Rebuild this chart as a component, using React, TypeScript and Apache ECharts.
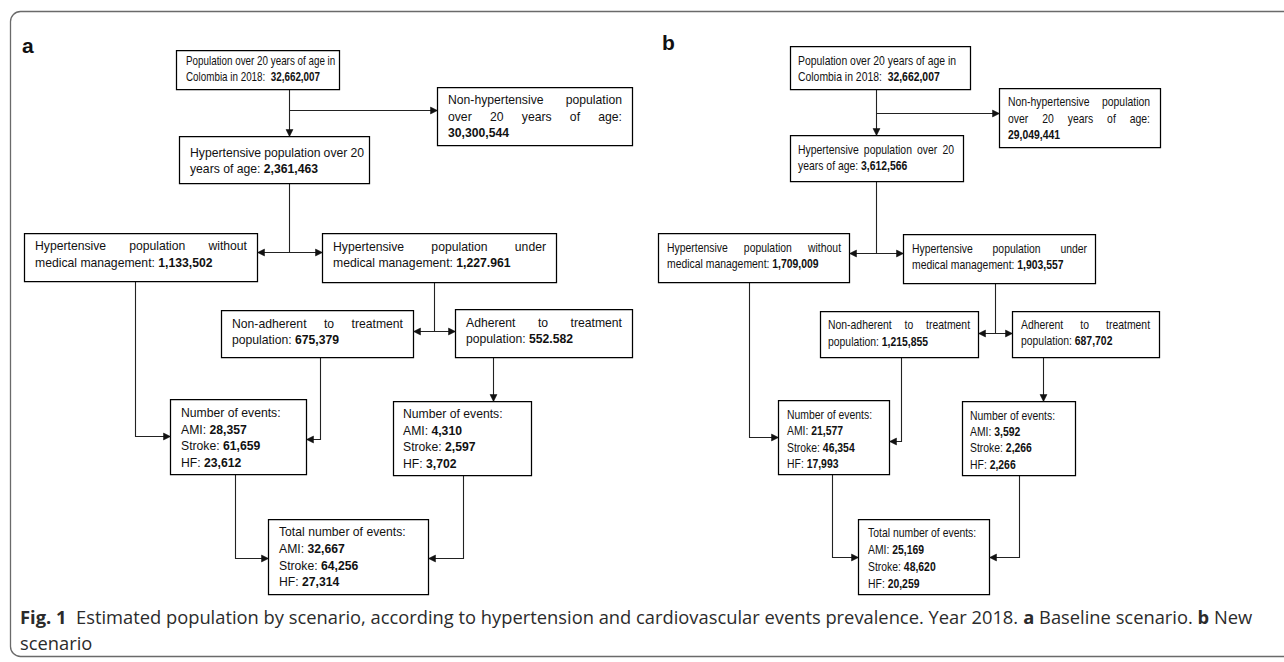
import React, { useEffect, useRef } from 'react';
import * as echarts from 'echarts';

// ---------- data ----------
const populationA = ['32,662,007', '30,300,544', '2,361,463', '1,133,502', '1,227.961', '675,379', '552.582'];
const eventsNonAdherentA = ['28,357', '61,659', '23,612'];
const eventsAdherentA = ['4,310', '2,597', '3,702'];
const eventsTotalA = ['32,667', '64,256', '27,314'];

const populationB = ['32,662,007', '29,049,441', '3,612,566', '1,709,009', '1,903,557', '1,215,855', '687,702'];
const eventsNonAdherentB = ['21,577', '46,354', '17,993'];
const eventsAdherentB = ['3,592', '2,266', '2,266'];
const eventsTotalB = ['25,169', '48,620', '20,259'];

const eventLabels = ['AMI', 'Stroke', 'HF'];
const panelLabels = ['a', 'b'];
const captionLine1 = ['Fig. 1', 'Estimated population by scenario, according to hypertension and cardiovascular events prevalence. Year 2018.', 'a', 'Baseline scenario.', 'b', 'New'];
const captionLine2 = 'scenario';

// ---------- styling ----------
const SANS = "'Liberation Sans', Arial, Helvetica, sans-serif";
const CAP = "'Open Sans', 'Noto Sans', sans-serif";
const INK = '#111111';

let ctx: CanvasRenderingContext2D | null = null;
function tw(text: string, size: number, bold = false, fam = SANS): number {
  if (!ctx) ctx = document.createElement('canvas').getContext('2d');
  ctx!.font = `${bold ? 'bold ' : ''}${size}px ${fam}`;
  return ctx!.measureText(text).width;
}

type LineSpec = { t: string; j?: boolean };
type BoxSpec = {
  x0: number; y0: number; x1: number; y1: number;
  tx: number; tr?: number; ys: number[]; lines: LineSpec[]; fs: number; sx: number;
};
type Conn = { pts: number[][]; start?: boolean; end?: boolean };

function textEl(t: string, x: number, y: number, fs: number, sx: number) {
  return {
    type: 'text', x, y, scaleX: sx, z: 5,
    style: {
      text: t, x: 0, y: 0, fill: INK, fontSize: fs, fontFamily: SANS,
      align: 'left', verticalAlign: 'middle', textAlign: 'left', textVerticalAlign: 'middle',
      rich: { b: { fontWeight: 'bold', fontSize: fs, fontFamily: SANS, fill: INK } },
    },
  };
}

function boxEls(b: BoxSpec): any[] {
  const els: any[] = [];
  els.push({
    type: 'rect', z: 2,
    shape: { x: b.x0 + 0.5, y: b.y0 + 0.5, width: b.x1 - b.x0, height: b.y1 - b.y0 },
    style: { fill: '#ffffff', stroke: '#000000', lineWidth: 1.25 },
  });
  b.lines.forEach((ln, i) => {
    const y = b.ys[i];
    if (ln.j && b.tr !== undefined) {
      const words = ln.t.split(/\s+/);
      const ws = words.map((w) => tw(w, b.fs) * b.sx);
      const total = ws.reduce((a, c) => a + c, 0);
      const gap = (b.tr - b.tx - total) / (words.length - 1);
      let x = b.tx;
      words.forEach((w, k) => {
        els.push(textEl(w, x, y, b.fs, b.sx));
        x += ws[k] + gap;
      });
    } else {
      els.push(textEl(ln.t, b.tx, y, b.fs, b.sx));
    }
  });
  return els;
}

function arrowHead(p: number[], q: number[]) {
  const dx = q[0] - p[0], dy = q[1] - p[1];
  const L = Math.hypot(dx, dy) || 1;
  const ux = dx / L, uy = dy / L;
  const len = 7, hw = 3.5;
  const bx = q[0] - ux * len, by = q[1] - uy * len;
  return {
    type: 'polygon', z: 4,
    shape: { points: [[q[0], q[1]], [bx - uy * hw, by + ux * hw], [bx + uy * hw, by - ux * hw]] },
    style: { fill: INK, stroke: INK, lineWidth: 0.5 },
  };
}

function connEls(c: Conn): any[] {
  const pts = c.pts.map((p) => [p[0] + 0.5, p[1] + 0.5]);
  const els: any[] = [{
    type: 'polyline', z: 1, shape: { points: pts },
    style: { stroke: '#222222', lineWidth: 1.1, fill: null },
  }];
  if (c.end) els.push(arrowHead(pts[pts.length - 2], pts[pts.length - 1]));
  if (c.start) els.push(arrowHead(pts[1], pts[0]));
  return els;
}

function eventLines(title: string, vals: string[]): LineSpec[] {
  return [{ t: title }, ...eventLabels.map((l, i) => ({ t: `${l}: {b|${vals[i]}}` }))];
}

function buildElements(): any[] {
  const FA = 12.2; // panel a font
  const FB = 12.7; // panel b font (narrow)
  const NB = 0.82;

  const pa = populationA, pb = populationB;

  const boxesA: BoxSpec[] = [
    { x0: 176, y0: 50, x1: 339, y1: 89, tx: 186, ys: [61, 77], fs: 12.0, sx: NB,
      lines: [{ t: 'Population over 20 years of age in' }, { t: `Colombia in 2018:  {b|${pa[0]}}` }] },
    { x0: 437, y0: 87, x1: 632, y1: 145, tx: 448, tr: 622, ys: [100, 117, 133], fs: FA, sx: 1,
      lines: [{ t: 'Non-hypertensive population', j: true }, { t: 'over 20 years of age:', j: true }, { t: `{b|${pa[1]}}` }] },
    { x0: 179, y0: 136, x1: 369, y1: 183, tx: 190, tr: 364, ys: [153, 169], fs: FA, sx: 1,
      lines: [{ t: 'Hypertensive population over 20', j: true }, { t: `years of age: {b|${pa[2]}}` }] },
    { x0: 24, y0: 233, x1: 257, y1: 281, tx: 35, tr: 247, ys: [246, 263], fs: FA, sx: 1,
      lines: [{ t: 'Hypertensive population without', j: true }, { t: `medical management: {b|${pa[3]}}` }] },
    { x0: 322, y0: 233, x1: 556, y1: 282, tx: 333, tr: 546, ys: [247, 263], fs: FA, sx: 1,
      lines: [{ t: 'Hypertensive population under', j: true }, { t: `medical management: {b|${pa[4]}}` }] },
    { x0: 221, y0: 310, x1: 413, y1: 357, tx: 232, tr: 403, ys: [324, 340], fs: FA, sx: 1,
      lines: [{ t: 'Non-adherent to treatment', j: true }, { t: `population: {b|${pa[5]}}` }] },
    { x0: 455, y0: 309, x1: 632, y1: 357, tx: 466, tr: 622, ys: [323, 339], fs: FA, sx: 1,
      lines: [{ t: 'Adherent to treatment', j: true }, { t: `population: {b|${pa[6]}}` }] },
    { x0: 170, y0: 399, x1: 306, y1: 474, tx: 181, ys: [413, 430, 446, 463], fs: FA, sx: 1,
      lines: eventLines('Number of events:', eventsNonAdherentA) },
    { x0: 393, y0: 401, x1: 531, y1: 475, tx: 403, ys: [414, 431, 447, 464], fs: FA, sx: 1,
      lines: eventLines('Number of events:', eventsAdherentA) },
    { x0: 268, y0: 519, x1: 428, y1: 594, tx: 279, ys: [532, 549, 566, 582], fs: FA, sx: 1,
      lines: eventLines('Total number of events:', eventsTotalA) },
  ];

  const boxesB: BoxSpec[] = [
    { x0: 790, y0: 46, x1: 970, y1: 89, tx: 798, ys: [60, 76], fs: FB, sx: NB,
      lines: [{ t: 'Population over 20 years of age in' }, { t: `Colombia in 2018:  {b|${pb[0]}}` }] },
    { x0: 999, y0: 88, x1: 1160, y1: 147, tx: 1008, tr: 1150, ys: [101, 118, 134], fs: FB, sx: NB,
      lines: [{ t: 'Non-hypertensive population', j: true }, { t: 'over 20 years of age:', j: true }, { t: `{b|${pb[1]}}` }] },
    { x0: 790, y0: 135, x1: 963, y1: 181, tx: 798, tr: 954, ys: [149, 165], fs: FB, sx: NB,
      lines: [{ t: 'Hypertensive population over 20', j: true }, { t: `years of age: {b|${pb[2]}}` }] },
    { x0: 658, y0: 233, x1: 849, y1: 282, tx: 667, tr: 841, ys: [247, 263], fs: FB, sx: NB,
      lines: [{ t: 'Hypertensive population without', j: true }, { t: `medical management: {b|${pb[3]}}` }] },
    { x0: 903, y0: 234, x1: 1095, y1: 283, tx: 912, tr: 1087, ys: [248, 264], fs: FB, sx: NB,
      lines: [{ t: 'Hypertensive population under', j: true }, { t: `medical management: {b|${pb[4]}}` }] },
    { x0: 820, y0: 311, x1: 978, y1: 357, tx: 828, tr: 970, ys: [324, 341], fs: FB, sx: NB,
      lines: [{ t: 'Non-adherent to treatment', j: true }, { t: `population: {b|${pb[5]}}` }] },
    { x0: 1012, y0: 311, x1: 1159, y1: 357, tx: 1021, tr: 1150, ys: [324, 340], fs: FB, sx: NB,
      lines: [{ t: 'Adherent to treatment', j: true }, { t: `population: {b|${pb[6]}}` }] },
    { x0: 778, y0: 400, x1: 889, y1: 474, tx: 787, ys: [414, 430, 447, 463], fs: FB, sx: NB,
      lines: eventLines('Number of events:', eventsNonAdherentB) },
    { x0: 962, y0: 401, x1: 1075, y1: 475, tx: 970, ys: [415, 431, 447, 464], fs: FB, sx: NB,
      lines: eventLines('Number of events:', eventsAdherentB) },
    { x0: 858, y0: 519, x1: 989, y1: 594, tx: 868, ys: [532, 549, 566, 583], fs: FB, sx: NB,
      lines: eventLines('Total number of events:', eventsTotalB) },
  ];

  const connA: Conn[] = [
    { pts: [[289, 89], [289, 136]], end: true },
    { pts: [[289, 110], [437, 110]], end: true },
    { pts: [[289, 183], [289, 252]] },
    { pts: [[257, 252], [322, 252]], start: true, end: true },
    { pts: [[135, 281], [135, 436], [170, 436]], end: true },
    { pts: [[434, 282], [434, 331]] },
    { pts: [[413, 331], [455, 331]], start: true, end: true },
    { pts: [[320, 357], [320, 439], [306, 439]], end: true },
    { pts: [[493, 357], [493, 401]], end: true },
    { pts: [[235, 474], [235, 558], [268, 558]], end: true },
    { pts: [[463, 475], [463, 558], [428, 558]], end: true },
  ];
  const connB: Conn[] = [
    { pts: [[876, 89], [876, 135]], end: true },
    { pts: [[876, 113], [999, 113]], end: true },
    { pts: [[876, 181], [876, 253]] },
    { pts: [[849, 253], [903, 253]], start: true, end: true },
    { pts: [[749, 282], [749, 437], [778, 437]], end: true },
    { pts: [[995, 283], [995, 333]] },
    { pts: [[978, 333], [1012, 333]], start: true, end: true },
    { pts: [[901, 357], [901, 441], [889, 441]], end: true },
    { pts: [[1043, 357], [1043, 401]], end: true },
    { pts: [[832, 474], [832, 557], [858, 557]], end: true },
    { pts: [[1019, 475], [1019, 557], [989, 557]], end: true },
  ];

  const els: any[] = [];
  // outer frame
  els.push({
    type: 'rect', z: 0,
    shape: { x: 10.5, y: 11.5, width: 1310, height: 645, r: 10 },
    style: { fill: '#ffffff', stroke: '#6a6a6a', lineWidth: 1.3 },
  });
  // panel labels
  [[22, 45], [662, 42]].forEach((p, i) => {
    els.push({
      type: 'text', x: p[0], y: p[1], z: 5,
      style: { text: panelLabels[i], x: 0, y: 0, fill: INK, fontSize: 21, fontWeight: 'bold', fontFamily: SANS,
        align: 'left', verticalAlign: 'middle', textAlign: 'left', textVerticalAlign: 'middle' },
    });
  });

  [...connA, ...connB].forEach((c) => els.push(...connEls(c)));
  [...boxesA, ...boxesB].forEach((b) => els.push(...boxEls(b)));

  // caption
  const CF = 18;
  const CC = '#2b2b2b';
  const parts = captionLine1;
  const w = tw(parts[0], CF, true, CAP) + tw('  ' + parts[1] + ' ', CF, false, CAP) + tw(parts[2], CF, true, CAP)
    + tw(' ' + parts[3] + ' ', CF, false, CAP) + tw(parts[4], CF, true, CAP) + tw(' ' + parts[5], CF, false, CAP);
  const csx = (1252 - 20) / w;
  const capRich = { b: { fontWeight: 'bold', fontSize: CF, fontFamily: CAP, fill: CC } };
  els.push({
    type: 'text', x: 20, y: 617, scaleX: csx, z: 5,
    style: {
      text: `{b|${parts[0]}}  ${parts[1]} {b|${parts[2]}} ${parts[3]} {b|${parts[4]}} ${parts[5]}`,
      x: 0, y: 0, fill: CC, fontSize: CF, fontFamily: CAP,
      align: 'left', verticalAlign: 'middle', textAlign: 'left', textVerticalAlign: 'middle', rich: capRich,
    },
  });
  els.push({
    type: 'text', x: 20, y: 643, scaleX: csx, z: 5,
    style: {
      text: captionLine2, x: 0, y: 0, fill: CC, fontSize: CF, fontFamily: CAP,
      align: 'left', verticalAlign: 'middle', textAlign: 'left', textVerticalAlign: 'middle',
    },
  });
  return els;
}

export default function App() {
  const ref = useRef<HTMLDivElement>(null);
  useEffect(() => {
    document.body.style.margin = '0';
    if (!ref.current) return;
    const chart = echarts.init(ref.current, null, { renderer: 'svg' });
    chart.setOption({
      animation: false,
      backgroundColor: '#ffffff',
      graphic: { elements: buildElements() },
    });
    return () => chart.dispose();
  }, []);
  return <div ref={ref} style={{ width: 1284, height: 662 }} />;
}
